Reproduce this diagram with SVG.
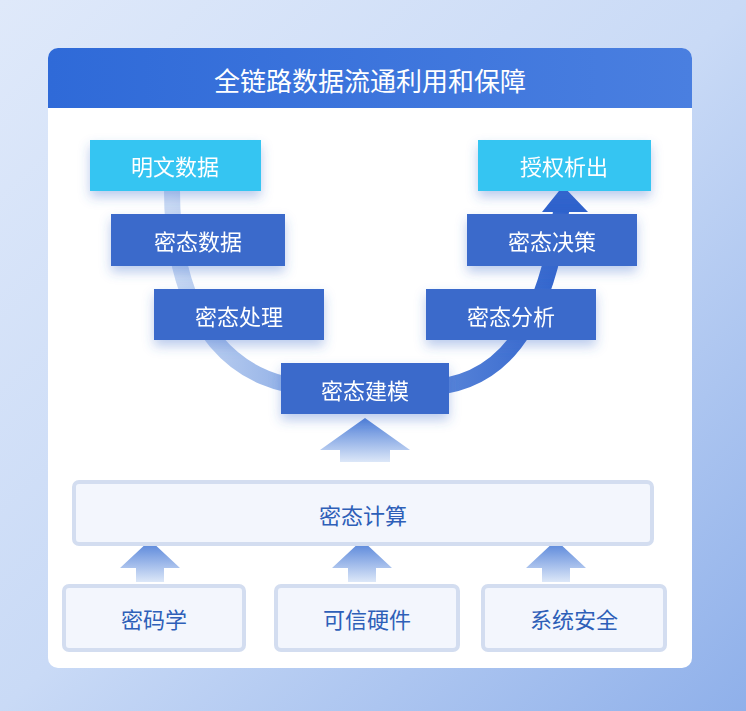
<svg xmlns="http://www.w3.org/2000/svg" width="746" height="711" viewBox="0 0 746 711">
<defs>
<linearGradient id="bg" x1="0" y1="0" x2="1" y2="1"><stop offset="0" stop-color="#dfe9fa"/><stop offset="0.5" stop-color="#c9daf6"/><stop offset="1" stop-color="#8fb0ea"/></linearGradient>
<linearGradient id="hd" x1="0" y1="0" x2="1" y2="0"><stop offset="0" stop-color="#2f6ad8"/><stop offset="1" stop-color="#4a7fe0"/></linearGradient>
<linearGradient id="curve" gradientUnits="userSpaceOnUse" x1="170" y1="0" x2="570" y2="0"><stop offset="0" stop-color="#c9d9f3"/><stop offset="0.5" stop-color="#6f97df"/><stop offset="1" stop-color="#2f62cc"/></linearGradient>
<linearGradient id="up" x1="0" y1="0" x2="0" y2="1"><stop offset="0" stop-color="#4f7fd8"/><stop offset="1" stop-color="#dce7f8"/></linearGradient>
<filter id="sh" x="-20%" y="-30%" width="140%" height="180%"><feDropShadow dx="0" dy="6" stdDeviation="6" flood-color="#3a6acb" flood-opacity="0.35"/></filter>
<style>
.t{font-family:"Noto Sans CJK SC","Noto Sans",sans-serif;font-size:22px;text-anchor:middle;dominant-baseline:central}
.dk{fill:#3a6acb}
.cy{fill:#36c5f2}
.w{fill:#fff}
.lt{fill:#f3f6fd;stroke:#d3ddf0;stroke-width:4}
.bt{fill:#2e5fb8}
</style>
</defs>
<rect width="746" height="711" fill="url(#bg)"/>
<rect x="48" y="48" width="644" height="620" rx="10" fill="#fff"/>
<path d="M58,48 H682 a10,10 0 0 1 10,10 V108 H48 V58 a10,10 0 0 1 10,-10 z" fill="url(#hd)"/>
<text class="t w" x="370" y="79" style="font-size:26px">全链路数据流通利用和保障</text>
<g id="connectors">
<path d="M172,190 C172,330 240,388 320,388 L420,388 C500,388 545,330 562,205" fill="none" stroke="url(#curve)" stroke-width="16"/>
<polygon points="563,186 588,212 542,212" fill="#2f62cc"/>
<path d="M365,418 L410,450 L390,450 L390,462 L340,462 L340,450 L320,450 Z" fill="url(#up)"/>
<path d="M150,540 L180,568 L164,568 L164,582 L136,582 L136,568 L120,568 Z" fill="url(#up)"/>
<path d="M362,540 L392,568 L376,568 L376,582 L348,582 L348,568 L332,568 Z" fill="url(#up)"/>
<path d="M556,540 L586,568 L570,568 L570,582 L542,582 L542,568 L526,568 Z" fill="url(#up)"/>
</g>
<g id="n1" filter="url(#sh)"><rect class="cy" x="90" y="140" width="171" height="51"/><text class="t w" x="175" y="165">明文数据</text></g>
<g id="n2" filter="url(#sh)"><rect class="cy" x="478" y="140" width="173" height="51"/><text class="t w" x="564" y="165">授权析出</text></g>
<g id="n3" filter="url(#sh)"><rect class="dk" x="111" y="214" width="174" height="52"/><text class="t w" x="198" y="240">密态数据</text></g>
<g id="n4" filter="url(#sh)"><rect class="dk" x="467" y="214" width="170" height="52"/><text class="t w" x="552" y="240">密态决策</text></g>
<g id="n5" filter="url(#sh)"><rect class="dk" x="154" y="289" width="170" height="51"/><text class="t w" x="239" y="315">密态处理</text></g>
<g id="n6" filter="url(#sh)"><rect class="dk" x="426" y="289" width="170" height="51"/><text class="t w" x="511" y="315">密态分析</text></g>
<g id="n7" filter="url(#sh)"><rect class="dk" x="281" y="363" width="168" height="51"/><text class="t w" x="365" y="389">密态建模</text></g>
<g id="n8"><rect class="lt" x="74" y="482" width="578" height="62" rx="5"/><text class="t bt" x="363" y="514">密态计算</text></g>
<g id="n9"><rect class="lt" x="64" y="586" width="180" height="64" rx="5"/><text class="t bt" x="154" y="618">密码学</text></g>
<g id="n10"><rect class="lt" x="276" y="586" width="182" height="64" rx="5"/><text class="t bt" x="367" y="618">可信硬件</text></g>
<g id="n11"><rect class="lt" x="483" y="586" width="182" height="64" rx="5"/><text class="t bt" x="574" y="618">系统安全</text></g>
</svg>
